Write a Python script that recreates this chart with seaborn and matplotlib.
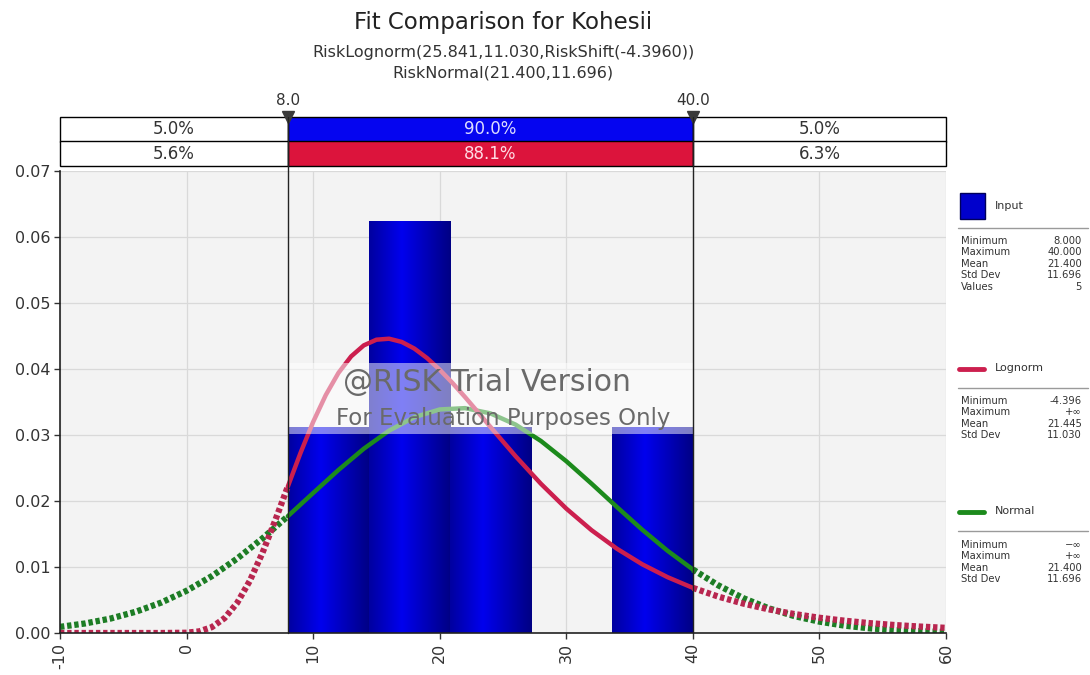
import numpy as np
import pandas as pd
import matplotlib
matplotlib.use("Agg")
import matplotlib.pyplot as plt
import matplotlib.transforms as mtransforms
from matplotlib.patches import Rectangle
from matplotlib.lines import Line2D
from matplotlib.colors import LinearSegmentedColormap
import seaborn as sns

# ---------------- data ----------------
input_values = [8, 17, 20, 22, 40]

lognorm_x = [-10, -8, -6, -4, -2, 0, 1, 2, 3, 4, 5, 6, 7, 8, 9, 10, 11, 12, 13, 14,
             15, 16, 17, 18, 19, 20, 21, 22, 23, 24, 26, 28, 30, 32, 34, 36, 38, 40,
             42, 44, 46, 48, 50, 52, 54, 56, 58, 60]
lognorm_pdf = [0.0, 0.0, 0.0, 0.0, 0.0, 0.00004, 0.00025, 0.00089, 0.00225, 0.00457,
               0.00792, 0.01216, 0.01704, 0.02219, 0.02727, 0.03198, 0.03606, 0.03941,
               0.04191, 0.04358, 0.04444, 0.04459, 0.04410, 0.04309, 0.04165, 0.03989,
               0.03790, 0.03575, 0.03351, 0.03124, 0.02677, 0.02260, 0.01885, 0.01557,
               0.01277, 0.01041, 0.00846, 0.00684, 0.00552, 0.00445, 0.00358, 0.00288,
               0.00231, 0.00186, 0.00149, 0.00120, 0.00097, 0.00078]

normal_x = [-10, -8, -6, -4, -2, 0, 2, 4, 6, 8, 10, 12, 14, 16, 18, 20, 22, 24, 26, 28,
            30, 32, 34, 36, 38, 40, 42, 44, 46, 48, 50, 52, 54, 56, 58, 60]
normal_pdf = [0.00093, 0.00145, 0.00219, 0.00323, 0.00461, 0.00640, 0.00862, 0.01128,
              0.01434, 0.01770, 0.02121, 0.02470, 0.02792, 0.03066, 0.03270, 0.03387,
              0.03407, 0.03328, 0.03157, 0.02909, 0.02603, 0.02262, 0.01909, 0.01565,
              0.01246, 0.00963, 0.00723, 0.00527, 0.00374, 0.00257, 0.00172, 0.00111,
              0.00070, 0.00043, 0.00026, 0.00015]

x_ticks = [-10, 0, 10, 20, 30, 40, 50, 60]
y_ticks = [0.00, 0.01, 0.02, 0.03, 0.04, 0.05, 0.06, 0.07]
marker_values = [8.0, 40.0]
input_pcts = ["5.0%", "90.0%", "5.0%"]
lognorm_pcts = ["5.6%", "88.1%", "6.3%"]

title = "Fit Comparison for Kohesii"
subtitle1 = "RiskLognorm(25.841,11.030,RiskShift(-4.3960))"
subtitle2 = "RiskNormal(21.400,11.696)"

input_stat_names = ["Minimum", "Maximum", "Mean", "Std Dev", "Values"]
input_stat_vals = ["8.000", "40.000", "21.400", "11.696", "5"]
lognorm_stat_names = ["Minimum", "Maximum", "Mean", "Std Dev"]
lognorm_stat_vals = ["-4.396", "+\u221e", "21.445", "11.030"]
normal_stat_names = ["Minimum", "Maximum", "Mean", "Std Dev"]
normal_stat_vals = ["\u2212\u221e", "+\u221e", "21.400", "11.696"]

# ---------------- style ----------------
sns.set_style("white")
plt.rcParams["font.family"] = ["DejaVu Sans"]
plt.rcParams["axes.unicode_minus"] = False

W, H = 1090, 675
def fx(px):
    return px / W
def fy(py):
    return 1 - py / H

BLUE = "#0505f0"
RED = "#dc143c"
RED_LINE = "#cc1f4e"
RED_DOT = "#b8264f"
GREEN_LINE = "#1c8a1c"
GREEN_DOT = "#1d7d25"
TXT = "#333333"

fig = plt.figure(figsize=(W / 100, H / 100), dpi=100)
ax = fig.add_axes([fx(60), fy(633), (946 - 60) / W, (633 - 171) / H])
ax.set_facecolor("#f3f3f3")

# histogram
sns.histplot(x=input_values, bins=5, binrange=(min(input_values), max(input_values)),
             stat="density", ax=ax, color="#0000d8", edgecolor="none", linewidth=0,
             alpha=1, zorder=2)
cmap = LinearSegmentedColormap.from_list(
    "barg", [(0, "#0000a0"), (0.4, "#0000ee"), (1, "#000084")])
grad = np.linspace(0, 1, 64).reshape(1, -1)
for p in list(ax.patches):
    h = p.get_height()
    if h <= 0:
        continue
    x0, y0, w = p.get_x(), p.get_y(), p.get_width()
    im = ax.imshow(grad, extent=[x0, x0 + w, y0, y0 + h], aspect="auto",
                   cmap=cmap, interpolation="bilinear", zorder=2.1)
    im.set_clip_path(p)

# curves
ln_df = pd.DataFrame({"x": lognorm_x, "y": lognorm_pdf})
nm_df = pd.DataFrame({"x": normal_x, "y": normal_pdf})
lo, hi = marker_values
dotted = (0, (0.7, 0.45))
for df, cl, cd in [(nm_df, GREEN_LINE, GREEN_DOT), (ln_df, RED_LINE, RED_DOT)]:
    left = df[df.x <= lo]
    mid = df[(df.x >= lo) & (df.x <= hi)]
    right = df[df.x >= hi]
    for part in (left, right):
        sns.lineplot(data=part, x="x", y="y", ax=ax, color=cd, lw=4.5,
                     linestyle=dotted, sort=False, estimator=None, zorder=3)
    sns.lineplot(data=mid, x="x", y="y", ax=ax, color=cl, lw=3.2,
                 sort=False, estimator=None, zorder=3.2)

ax.set_xlim(-10, 60)
ax.set_ylim(0, 0.07)
ax.set_xticks(x_ticks)
ax.set_xticklabels([str(t) for t in x_ticks], rotation=90)
ax.set_yticks(y_ticks)
ax.set_yticklabels([f"{t:.2f}" for t in y_ticks])
ax.set_xlabel("")
ax.set_ylabel("")
ax.grid(True, color="#d9d9d9", lw=0.9, zorder=0)
ax.set_axisbelow(True)
ax.tick_params(axis="both", direction="out", length=4, width=1, color=TXT,
               labelsize=11.5, labelcolor=TXT, pad=3)
ax.tick_params(axis="both", which="both", bottom=True, left=True)
for s in ["top", "right"]:
    ax.spines[s].set_visible(False)
for s in ["left", "bottom"]:
    ax.spines[s].set_color("#222222")
    ax.spines[s].set_linewidth(1.2)
    ax.spines[s].set_zorder(6)

# watermark
ax.add_patch(Rectangle((lo, 0.0302), hi - lo, 0.0107, facecolor="white",
                       alpha=0.5, edgecolor="none", zorder=5))
ax.text((487 - 60) / 886, (633 - 383) / 462, "@RISK Trial Version",
        transform=ax.transAxes, ha="center", va="center", fontsize=21.5,
        color="#6a6a6a", zorder=6)
ax.text((503 - 60) / 886, (633 - 418) / 462, "For Evaluation Purposes Only",
        transform=ax.transAxes, ha="center", va="center", fontsize=16.5,
        color="#6a6a6a", zorder=6)

# top percentage band
bax = fig.add_axes([fx(60), fy(166), (946 - 60) / W, (166 - 117) / H])
bax.set_xlim(-10, 60)
bax.set_ylim(0, 2)
bax.axis("off")
edges = [-10, lo, hi, 60]
rows = [(input_pcts, BLUE, "#dcdcff", 1), (lognorm_pcts, RED, "#ffdce4", 0)]
for pcts, midc, midtxt, y0 in rows:
    for i in range(3):
        x0, x1 = edges[i], edges[i + 1]
        fc = midc if i == 1 else "white"
        bax.add_patch(Rectangle((x0, y0), x1 - x0, 1, facecolor=fc,
                                edgecolor="black", lw=1, clip_on=False))
        bax.text((x0 + x1) / 2, y0 + 0.5, pcts[i], ha="center", va="center",
                 fontsize=12, color=midtxt if i == 1 else TXT)
bax.plot(marker_values, [2, 2], ls="none", marker="v", ms=9, color="#3a3a3a",
         clip_on=False, zorder=5)
for m in marker_values:
    bax.annotate(f"{m:.1f}", xy=(m, 2), xytext=(0, 12), textcoords="offset points",
                 ha="center", va="center", fontsize=11, color=TXT)

# vertical marker lines through band and plot
blend = mtransforms.blended_transform_factory(ax.transData, fig.transFigure)
for m in marker_values:
    fig.add_artist(Line2D([m, m], [fy(633), fy(117)], transform=blend,
                          color="#222222", lw=1, zorder=3))

# titles
fig.text(fx(503), fy(22), title, ha="center", va="center", fontsize=16.5, color="#222222")
fig.text(fx(503), fy(52), subtitle1, ha="center", va="center", fontsize=11.5, color=TXT)
fig.text(fx(503), fy(73), subtitle2, ha="center", va="center", fontsize=11.5, color=TXT)

# right legend panel
LFS = 7.2
STEP = 11.4
def stats_block(y_div, y_row0, names, vals):
    fig.add_artist(Line2D([fx(958), fx(1088)], [fy(y_div), fy(y_div)],
                          transform=fig.transFigure, color="#9a9a9a", lw=1))
    for k, (n, v) in enumerate(zip(names, vals)):
        yy = fy(y_row0 + k * STEP)
        fig.text(fx(961), yy, n, ha="left", va="center", fontsize=LFS, color=TXT)
        fig.text(fx(1082), yy, v, ha="right", va="center", fontsize=LFS, color=TXT)

fig.add_artist(Rectangle((fx(960), fy(219)), 25 / W, 26 / H, transform=fig.transFigure,
                         facecolor="#0000cc", edgecolor="#00005a", lw=1))
fig.text(fx(995), fy(206), "Input", ha="left", va="center", fontsize=LFS + 0.8, color=TXT)
stats_block(228, 241, input_stat_names, input_stat_vals)

fig.add_artist(Line2D([fx(959), fx(984)], [fy(369), fy(369)], transform=fig.transFigure,
                      color=RED_LINE, lw=3.5))
fig.text(fx(995), fy(368), "Lognorm", ha="left", va="center", fontsize=LFS + 0.8, color=TXT)
stats_block(388, 401, lognorm_stat_names, lognorm_stat_vals)

fig.add_artist(Line2D([fx(959), fx(984)], [fy(512), fy(512)], transform=fig.transFigure,
                      color=GREEN_LINE, lw=3.5))
fig.text(fx(995), fy(511), "Normal", ha="left", va="center", fontsize=LFS + 0.8, color=TXT)
stats_block(531, 545, normal_stat_names, normal_stat_vals)

fig.savefig("out.png", dpi=100, facecolor="white")
